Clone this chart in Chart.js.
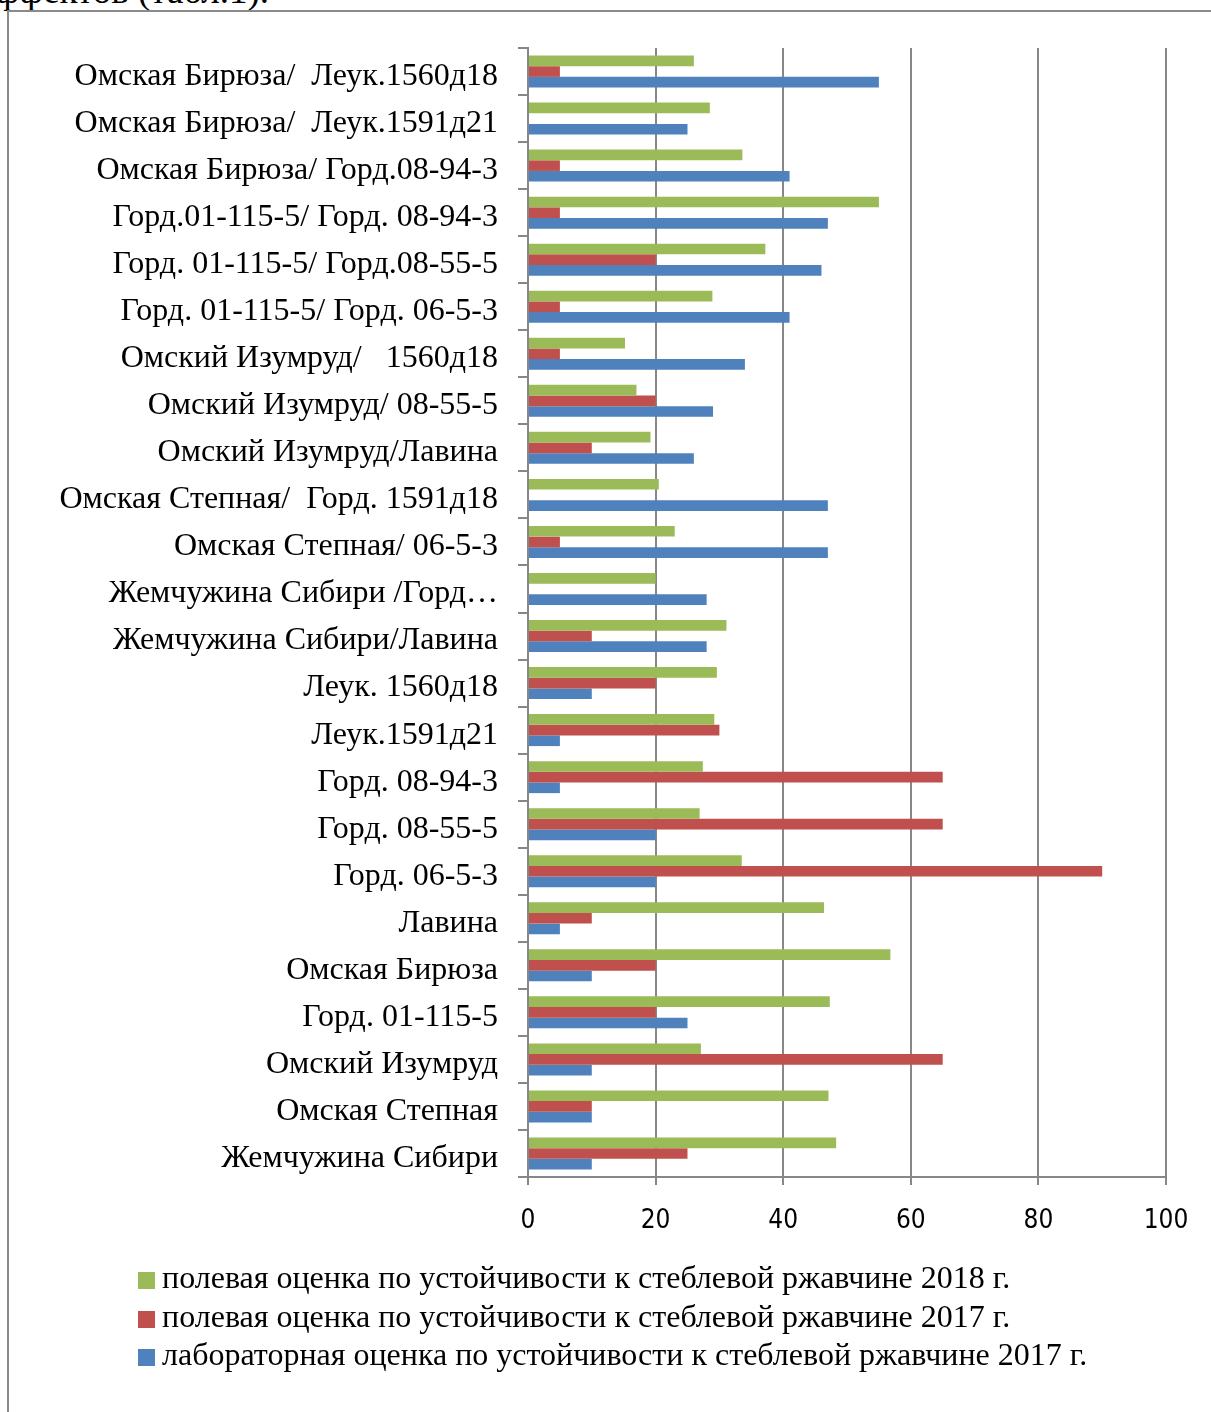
<!DOCTYPE html>
<html lang="ru">
<head>
<meta charset="utf-8">
<title>Устойчивость к стеблевой ржавчине</title>
<script src="https://cdn.jsdelivr.net/npm/chart.js@4.4.1/dist/chart.umd.min.js"></script>
<style>
    body { margin: 0; background: #fff; overflow: hidden; }
    #page { position: relative; width: 1211px; height: 1412px; }
    #chart { position: absolute; left: 0; top: 0; }
    .doc-text {
        position: absolute; top: -28px; right: calc(100% - 269px);
        font: 37px "Liberation Serif", "Times New Roman", serif;
        line-height: 37px; white-space: nowrap; color: #000;
    }
    .frame-top { position: absolute; left: 7px; top: 10px; right: 0; height: 2px; background: #8a8a8a; }
    .frame-left { position: absolute; left: 7px; top: 10px; bottom: 0; width: 2px; background: #8a8a8a; }
    #legend {
        position: absolute; left: 138px; top: 1258px;
        font: 32px "Liberation Serif", "Times New Roman", serif; color: #000;
    }
    #legend .item { height: 38.5px; line-height: 38.5px; white-space: nowrap; }
    #legend .box { display: inline-block; width: 17px; height: 17px; margin-right: 7px; vertical-align: -1px; }
</style>
</head>
<body>
<div id="page">
    <div class="doc-text">эффектов (табл.1).</div>
    <div class="frame-top"></div>
    <div class="frame-left"></div>
    <canvas id="chart" width="1211" height="1412"></canvas>
    <div id="legend"></div>
</div>
<script>
(function () {
    "use strict";

    // категории сверху вниз
    var varieties = [
        "Омская Бирюза/  Леук.1560д18",
        "Омская Бирюза/  Леук.1591д21",
        "Омская Бирюза/ Горд.08-94-3",
        "Горд.01-115-5/ Горд. 08-94-3",
        "Горд. 01-115-5/ Горд.08-55-5",
        "Горд. 01-115-5/ Горд. 06-5-3",
        "Омский Изумруд/   1560д18",
        "Омский Изумруд/ 08-55-5",
        "Омский Изумруд/Лавина",
        "Омская Степная/  Горд. 1591д18",
        "Омская Степная/ 06-5-3",
        "Жемчужина Сибири /Горд…",
        "Жемчужина Сибири/Лавина",
        "Леук. 1560д18",
        "Леук.1591д21",
        "Горд. 08-94-3",
        "Горд. 08-55-5",
        "Горд. 06-5-3",
        "Лавина",
        "Омская Бирюза",
        "Горд. 01-115-5",
        "Омский Изумруд",
        "Омская Степная",
        "Жемчужина Сибири"
    ];

    var field2018 = [26, 28.5, 33.6, 55, 37.2, 28.9, 15.2, 17, 19.2, 20.5, 23, 20,
                     31.1, 29.6, 29.2, 27.4, 26.9, 33.5, 46.4, 56.8, 47.3, 27.1, 47.1, 48.3];
    var field2017 = [5, 0, 5, 5, 20, 5, 5, 20, 10, 0, 5, 0,
                     10, 20, 30, 65, 65, 90, 10, 20, 20, 65, 10, 25];
    var lab2017   = [55, 25, 41, 47, 46, 41, 34, 29, 26, 47, 47, 28,
                     28, 10, 5, 5, 20, 20, 5, 10, 25, 10, 10, 10];

    var xTicks = [0, 20, 40, 60, 80, 100];

    var seriesNames = [
        "полевая оценка по устойчивости к стеблевой ржавчине 2018 г.",
        "полевая оценка по устойчивости к стеблевой ржавчине 2017 г.",
        "лабораторная оценка по устойчивости к стеблевой ржавчине 2017 г."
    ];
    var seriesColors = ["#9BBB59", "#C0504D", "#4F81BD"];
    var seriesData = [field2018, field2017, lab2017];

    var gridColor = "#878787";
    var serif = "'Liberation Serif', 'Times New Roman', serif";

    var datasets = seriesData.map(function (values, i) {
        return {
            label: seriesNames[i],
            data: values,
            backgroundColor: seriesColors[i],
            borderWidth: 0,
            barPercentage: 1.0,
            categoryPercentage: 0.68
        };
    });

    var ctx = document.getElementById("chart").getContext("2d");
    var myChart = new Chart(ctx, {
        type: "bar",
        data: {
            labels: varieties,
            datasets: datasets
        },
        options: {
            indexAxis: "y",
            responsive: false,
            animation: false,
            devicePixelRatio: 1,
            layout: {
                padding: { top: 48, right: 45, bottom: 175, left: 0 }
            },
            plugins: {
                legend: { display: false },
                tooltip: { enabled: false }
            },
            scales: {
                x: {
                    min: 0,
                    max: 100,
                    afterBuildTicks: function (scale) {
                        scale.ticks = xTicks.map(function (v) { return { value: v }; });
                    },
                    afterFit: function (scale) { scale.height = 60; },
                    grid: {
                        color: gridColor,
                        lineWidth: 2,
                        tickLength: 8
                    },
                    border: { color: gridColor, width: 2 },
                    ticks: {
                        color: "#000",
                        padding: 21,
                        font: { family: "'Liberation Sans Narrow', 'DejaVu Sans Condensed', sans-serif", size: 26 }
                    }
                },
                y: {
                    afterFit: function (scale) { scale.width = 528; },
                    grid: {
                        drawOnChartArea: false,
                        offset: true,
                        color: gridColor,
                        lineWidth: 2,
                        tickLength: 10
                    },
                    border: { color: gridColor, width: 2 },
                    ticks: {
                        autoSkip: false,
                        color: "#000",
                        padding: 20,
                        labelOffset: 5,
                        font: { family: serif, size: 32 }
                    }
                }
            }
        }
    });

    // легенда столбиком под графиком
    var legend = document.getElementById("legend");
    seriesNames.forEach(function (name, i) {
        var row = document.createElement("div");
        row.className = "item";
        var box = document.createElement("span");
        box.className = "box";
        box.style.background = seriesColors[i];
        row.appendChild(box);
        row.appendChild(document.createTextNode(name));
        legend.appendChild(row);
    });
})();
</script>
</body>
</html>
